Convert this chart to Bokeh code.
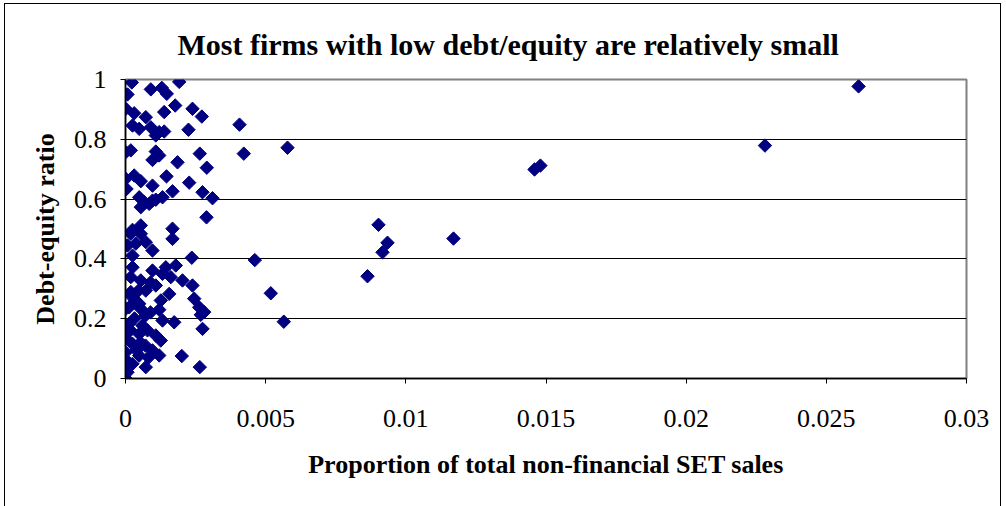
from bokeh.plotting import figure
from bokeh.models import FixedTicker, Range1d
from bokeh.embed import file_html
from bokeh.resources import INLINE
import numpy as np

# Proportion of total non-financial SET sales
sales_share = [
    0.000225, 0.001916, 0.000071, 0.000903, 0.001295, 0.001473, 0.001773, 0.000011,
    0.000310, 0.000724, 0.001380, 0.002390, 0.002722, 0.000250, 0.000489, 0.000903,
    0.001202, 0.001380, 0.001081, 0.002247, 0.004067, 0.000010, 0.000189, 0.001081,
    0.001202, 0.000963, 0.002650, 0.004220, 0.005779, 0.001855, 0.002900, 0.000010,
    0.000310, 0.000546, 0.001463, 0.002272, 0.000036, 0.000963, 0.001677, 0.002747,
    0.003104, 0.000489, 0.000667, 0.000546, 0.000845, 0.001081, 0.001320, 0.000963,
    0.002889, 0.000250, 0.000546, 0.001677, 0.000189, 0.000546, 0.001677, 0.000071,
    0.000367, 0.000724, 0.000963, 0.000250, 0.002365, 0.004612, 0.001794, 0.001438,
    0.000963, 0.000250, 0.000189, 0.000546, 0.001320, 0.001616, 0.002033, 0.002390,
    0.001081, 0.000724, 0.001559, 0.000189, 0.001259, 0.002451, 0.002629, 0.000132,
    0.000489, 0.001202, 0.002807, 0.000010, 0.000546, 0.002686, 0.001737, 0.001320,
    0.000132, 0.000606, 0.002747, 0.000010, 0.000489, 0.001081, 0.001259, 0.000250,
    0.000963, 0.000010, 0.000489, 0.001202, 0.002008, 0.000724, 0.000250, 0.000071,
    0.002650, 0.000010, 0.005183, 0.005647, 0.008633, 0.009025, 0.009168, 0.009346,
    0.011700, 0.014590, 0.014800, 0.022810, 0.026150,
    0.000357, 0.000714, 0.000892, 0.000785, 0.000321, 0.000178, 0.000714, 0.000392,
    0.000107, 0.000535, 0.000821, 0.000178, 0.000464, 0.000892,
]

# Debt-equity ratio
debt_equity = [
    0.990, 0.992, 0.950, 0.967, 0.972, 0.952, 0.913, 0.902,
    0.887, 0.874, 0.891, 0.902, 0.876, 0.846, 0.835, 0.840,
    0.824, 0.826, 0.813, 0.832, 0.849, 0.757, 0.763, 0.759,
    0.746, 0.731, 0.752, 0.752, 0.772, 0.723, 0.705, 0.668,
    0.679, 0.660, 0.676, 0.655, 0.634, 0.645, 0.626, 0.623,
    0.603, 0.606, 0.590, 0.573, 0.584, 0.598, 0.606, 0.595,
    0.539, 0.497, 0.512, 0.501, 0.484, 0.484, 0.467, 0.445,
    0.451, 0.456, 0.428, 0.411, 0.404, 0.396, 0.378, 0.372,
    0.361, 0.372, 0.339, 0.328, 0.350, 0.339, 0.328, 0.311,
    0.311, 0.294, 0.283, 0.289, 0.261, 0.267, 0.238, 0.238,
    0.250, 0.230, 0.222, 0.233, 0.233, 0.213, 0.188, 0.194,
    0.183, 0.177, 0.166, 0.133, 0.149, 0.144, 0.127, 0.116,
    0.094, 0.088, 0.077, 0.077, 0.075, 0.038, 0.049, 0.021,
    0.038, 0.000, 0.285, 0.190, 0.342, 0.514, 0.422, 0.454,
    0.468, 0.699, 0.712, 0.779, 0.977,
    0.261, 0.211, 0.221, 0.161, 0.201, 0.161, 0.110, 0.094,
    0.054, 0.120, 0.070, 0.278, 0.294, 0.321,
]

x_ticks = [0, 0.005, 0.01, 0.015, 0.02, 0.025, 0.03]
x_tick_labels = ["0", "0.005", "0.01", "0.015", "0.02", "0.025", "0.03"]
y_ticks = [0, 0.2, 0.4, 0.6, 0.8, 1.0]
y_tick_labels = ["0", "0.2", "0.4", "0.6", "0.8", "1"]

title_text = "Most firms with low debt/equity are relatively small"
x_title = "Proportion of total non-financial SET sales"
y_title = "Debt-equity ratio"

SERIF = "Liberation Serif"

p = figure(output_backend="svg", toolbar_location=None,
           x_range=Range1d(0, 0.03), y_range=Range1d(0, 1),
           frame_width=841, frame_height=299,
           min_border_left=125, min_border_top=79, min_border_right=40,
           min_border_bottom=128)

# outer chart-area border (left, top, right), drawn behind a transparent canvas
p.border_fill_color = None
p.styles = {
    "background": ("linear-gradient(#000,#000) 4px 3px / 1px 100% no-repeat, "
                   "linear-gradient(#000,#000) 4px 3px / 997px 1px no-repeat, "
                   "linear-gradient(#000,#000) 1000px 3px / 1px 100% no-repeat, "
                   "#ffffff"),
}

p.title.text = title_text
p.title.align = "left"
p.title.offset = 52
p.title.text_font = SERIF
p.title.text_font_style = "bold"
p.title.text_font_size = "30px"
p.title.text_color = "#000000"
p.title.standoff = 37

p.scatter(sales_share, debt_equity, marker="square", angle=np.pi / 4, size=9.5,
          fill_color="#000080", line_color="#000080", line_width=1)

p.outline_line_color = "#808080"
p.outline_line_width = 2
p.background_fill_color = "#ffffff"

p.xgrid.grid_line_color = None
p.ygrid.grid_line_color = "#000000"
p.ygrid.grid_line_width = 1

p.xaxis.ticker = FixedTicker(ticks=x_ticks)
p.xaxis.major_label_overrides = dict(zip(x_ticks, x_tick_labels))
p.yaxis.ticker = FixedTicker(ticks=y_ticks)
p.yaxis.major_label_overrides = dict(zip(y_ticks, y_tick_labels))

for ax in (p.xaxis, p.yaxis):
    ax.axis_line_color = "#000000"
    ax.axis_line_width = 1.5
    ax.major_tick_line_color = "#000000"
    ax.major_tick_in = 0
    ax.major_tick_out = 5
    ax.minor_tick_line_color = None
    ax.major_label_text_font = SERIF
    ax.major_label_text_font_size = "26px"
    ax.major_label_text_color = "#000000"
    ax.axis_label_text_font = SERIF
    ax.axis_label_text_font_style = "bold"
    ax.axis_label_text_font_size = "26px"
    ax.axis_label_text_color = "#000000"

p.xaxis.axis_label = x_title
p.yaxis.axis_label = y_title
p.xaxis.major_label_standoff = 26
p.xaxis.axis_label_standoff = 20
p.yaxis.major_label_standoff = 14
p.yaxis.axis_label_standoff = 11

open("out.html", "w").write(file_html(p, INLINE))
